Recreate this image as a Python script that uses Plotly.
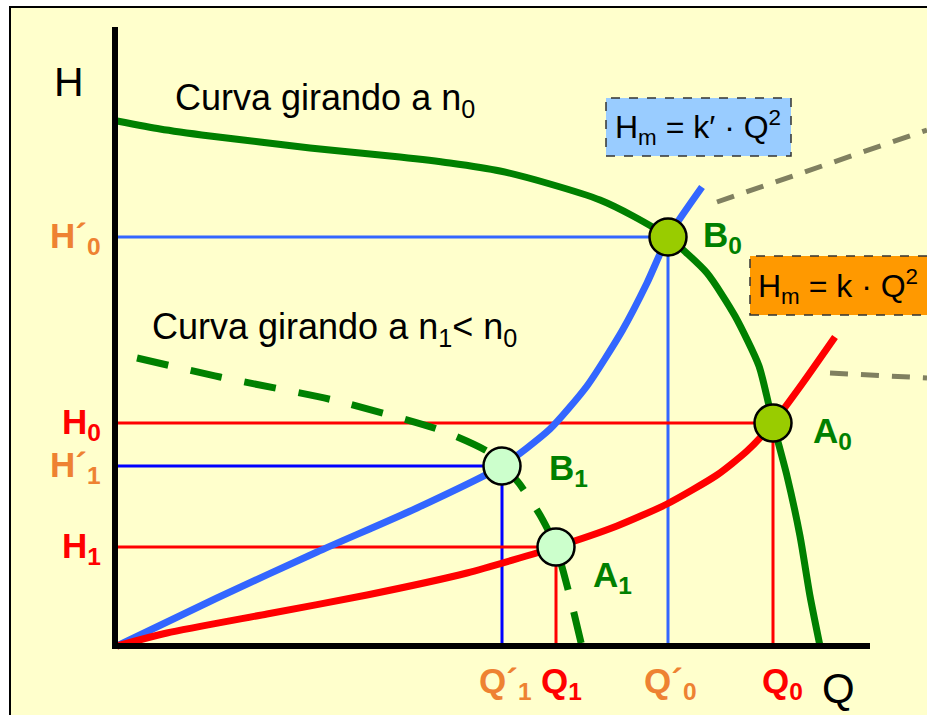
import plotly.graph_objects as go

# ---------------- data (Q, H in chart units) ----------------
# Pump head curve at speed n0
q_n0 = [0.00, 0.43, 0.93, 1.43, 1.93, 2.43, 2.83, 3.33, 3.83, 4.33, 4.83, 5.16, 5.51, 5.90, 6.18, 6.42, 6.56, 6.70, 6.83, 6.93, 7.03]
h_n0 = [5.25, 5.17, 5.10, 5.04, 4.98, 4.93, 4.89, 4.83, 4.75, 4.62, 4.46, 4.30, 4.09, 3.73, 3.30, 2.80, 2.23, 1.70, 1.10, 0.50, 0.00]

# Pump head curve at speed n1 < n0 (dashed)
q_n1 = [0.20, 1.03, 2.16, 3.23, 3.73, 4.01, 4.23, 4.39, 4.53, 4.66]
h_n1 = [2.88, 2.69, 2.46, 2.16, 1.93, 1.64, 1.31, 0.99, 0.49, -0.05]

# System curve Hm = k'·Q^2 (blue)
q_kp = [0.00, 1.00, 2.00, 3.00, 3.85, 4.33, 4.70, 5.05, 5.30, 5.51, 5.85]
h_kp = [0.00, 0.48, 0.94, 1.38, 1.80, 2.17, 2.60, 3.15, 3.63, 4.09, 4.59]

# System curve Hm = k·Q^2 (red)
q_k = [0.00, 0.50, 1.50, 2.50, 3.50, 4.39, 5.00, 5.50, 6.00, 6.30, 6.56, 6.85, 7.18]
h_k = [0.00, 0.13, 0.32, 0.51, 0.73, 0.99, 1.20, 1.42, 1.71, 1.95, 2.23, 2.62, 3.09]

# Operating points
pt_names = ["B0", "A0", "B1", "A1"]
pt_q = [5.51, 6.56, 3.85, 4.39]
pt_h = [4.09, 2.23, 1.80, 0.99]

# Pointer lines from the formula boxes
ptr_upper_q = [6.00, 8.10]
ptr_upper_h = [4.44, 5.16]
ptr_lower_q = [7.13, 8.10]
ptr_lower_h = [2.73, 2.68]

# Axis tick-like labels
h_labels = ["H´<sub>0</sub>", "H<sub>0</sub>", "H´<sub>1</sub>", "H<sub>1</sub>"]
q_labels = ["Q´<sub>0</sub>", "Q<sub>0</sub>", "Q´<sub>1</sub>", "Q<sub>1</sub>"]

# ---------------- styles ----------------
GREEN = "#008000"
BLUE = "#3366FF"
DBLUE = "#0000FF"
RED = "#FF0000"
ORANGE = "#EE8232"
OLIVE = "#808060"
FONT = "Liberation Sans, Arial, sans-serif"


def X(px):
    return (px - 117) / 100.0


def Y(py):
    return (646 - py) / 100.0


fig = go.Figure()

# reference lines from each operating point to the axes
ref_colors = [BLUE, RED, DBLUE, RED]
for q, h, c in zip(pt_q, pt_h, ref_colors):
    fig.add_trace(go.Scatter(x=[0, q, q], y=[h, h, 0], mode="lines",
                             line=dict(color=c, width=3), hoverinfo="skip"))

# pointer dashed lines
fig.add_trace(go.Scatter(x=ptr_upper_q, y=ptr_upper_h, mode="lines",
                         line=dict(color=OLIVE, width=5, dash="18px,13px"), hoverinfo="skip"))
fig.add_trace(go.Scatter(x=ptr_lower_q, y=ptr_lower_h, mode="lines",
                         line=dict(color=OLIVE, width=5, dash="18px,13px"), hoverinfo="skip"))

# curves
fig.add_trace(go.Scatter(x=q_kp, y=h_kp, mode="lines",
                         line=dict(color=BLUE, width=7, shape="spline", smoothing=0.6)))
fig.add_trace(go.Scatter(x=q_k, y=h_k, mode="lines",
                         line=dict(color=RED, width=7, shape="spline", smoothing=0.6)))
fig.add_trace(go.Scatter(x=q_n1, y=h_n1, mode="lines",
                         line=dict(color=GREEN, width=7, dash="32px,23px", shape="spline", smoothing=0.6)))
fig.add_trace(go.Scatter(x=q_n0, y=h_n0, mode="lines",
                         line=dict(color=GREEN, width=7, shape="spline", smoothing=0.6)))

# operating point markers
fills = ["#99CC00", "#99CC00", "#CCFFCC", "#CCFFCC"]
fig.add_trace(go.Scatter(x=pt_q, y=pt_h, mode="markers",
                         marker=dict(size=37, color=fills, line=dict(color="black", width=2.5))))

shapes = []
# panel background with border
shapes.append(dict(type="rect", xref="paper", yref="paper", x0=10 / 927, x1=1.02,
                   y0=-0.02, y1=1 - 7 / 715, fillcolor="#FFFFCC",
                   line=dict(color="black", width=2), layer="below"))
# axes
shapes.append(dict(type="line", x0=X(115), x1=X(115), y0=Y(649), y1=Y(27),
                   line=dict(color="black", width=6)))
shapes.append(dict(type="line", x0=X(112), x1=X(870), y0=Y(646), y1=Y(646),
                   line=dict(color="black", width=6)))
# formula boxes
shapes.append(dict(type="rect", x0=X(606), x1=X(791), y0=Y(156), y1=Y(98),
                   fillcolor="#99CCFF", line=dict(color="#333333", width=1.5, dash="dash"),
                   layer="below"))
shapes.append(dict(type="rect", x0=X(750), x1=X(935), y0=Y(315), y1=Y(256),
                   fillcolor="#FF9900", line=dict(color="#333333", width=1.5, dash="dash"),
                   layer="below"))

ann = []


def add_text(text, xpx, ypx, size, color="black", bold=False, xanchor="center", yanchor="middle"):
    t = f"<b>{text}</b>" if bold else text
    ann.append(dict(x=X(xpx), y=Y(ypx), text=t, showarrow=False, xanchor=xanchor,
                    yanchor=yanchor, font=dict(family=FONT, size=size, color=color)))


add_text("H", 69, 82, 41)
add_text("Q", 838, 688, 42)
add_text("Curva girando a n<sub>0</sub>", 173, 100, 36, xanchor="left")
add_text("Curva girando a n<sub>1</sub>< n<sub>0</sub>", 150, 329, 36, xanchor="left")
add_text("H<sub>m</sub> = k′ · Q<sup>2</sup>", 698, 127, 32)
add_text("H<sub>m</sub> = k · Q<sup>2</sup>", 838, 286, 32)

# H labels on the left axis
h_label_colors = [ORANGE, RED, ORANGE, RED]
for lab, hv, c in zip(h_labels, pt_h, h_label_colors):
    ann.append(dict(x=X(103), y=hv, text=f"<b>{lab}</b>", showarrow=False, xanchor="right",
                    yanchor="middle", yshift=-1, font=dict(family=FONT, size=35, color=c)))

# Q labels under the axis
q_label_colors = [ORANGE, RED, ORANGE, RED]
q_shift = [2, 9, 3, 5]
for lab, qv, c, s in zip(q_labels, pt_q, q_label_colors, q_shift):
    ann.append(dict(x=qv, y=Y(683), text=f"<b>{lab}</b>", showarrow=False, xanchor="center",
                    yanchor="middle", xshift=s, font=dict(family=FONT, size=35, color=c)))

# operating point names
name_pos = [(722, 237), (832, 433), (568, 470), (612, 577)]
for nm, (xp, yp) in zip(pt_names, name_pos):
    add_text(f"{nm[0]}<sub>{nm[1]}</sub>", xp, yp, 35, color=GREEN, bold=True)

fig.update_layout(
    width=927, height=715,
    margin=dict(l=0, r=0, t=0, b=0),
    paper_bgcolor="white", plot_bgcolor="rgba(0,0,0,0)",
    showlegend=False,
    xaxis=dict(range=[X(0), X(927)], visible=False, fixedrange=True),
    yaxis=dict(range=[Y(715), Y(0)], visible=False, fixedrange=True),
    shapes=shapes, annotations=ann,
)

fig.write_html("out.html", config={"displayModeBar": False},
               post_script="document.body.style.margin='0px';document.body.style.overflow='hidden';")
